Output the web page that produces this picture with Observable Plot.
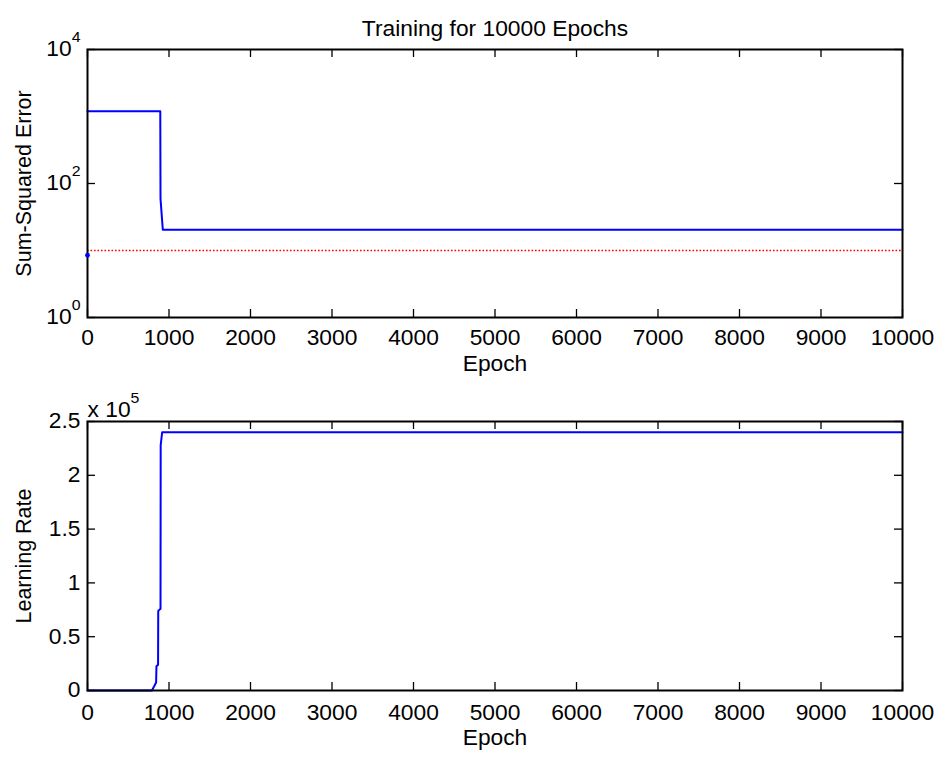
<!DOCTYPE html>
<html>
<head>
<meta charset="utf-8">
<script src="https://cdn.jsdelivr.net/npm/d3@7"></script>
<script src="https://cdn.jsdelivr.net/npm/@observablehq/plot@0.6"></script>
<style>
  html, body { margin: 0; padding: 0; background: white; }
  #chart { width: 939px; height: 758px; overflow: hidden; }
  #chart svg { display: block; }
</style>
</head>
<body>
<div id="chart"></div>
<script>
// ---- Data ----
const titleText = "Training for 10000 Epochs";
const xLabelText = "Epoch";
const sseLabelText = "Sum-Squared Error";
const lrLabelText = "Learning Rate";
const lrMultiplierText = "x 10^5";

const sseEpochs = [0, 893, 896, 924, 10000];
const sseValues = [1200, 1200, 59, 20.4, 20.4];
const errorGoal = 10;
const startEpochs = [0];
const startValues = [8.5];

const lrEpochs = [0, 790, 815, 842, 846, 866, 868, 896, 898, 916, 10000];
const lrValues = [0, 0, 0.035, 0.075, 0.225, 0.24, 0.74, 0.76, 2.28, 2.4, 2.4]; // in units of 10^5

const epochTicks = [0, 1000, 2000, 3000, 4000, 5000, 6000, 7000, 8000, 9000, 10000];
const sseTicks = [1, 100, 10000];
const sseTickLabels = ["10^0", "10^2", "10^4"];
const lrTicks = [0, 0.5, 1, 1.5, 2, 2.5];
const lrTickLabels = ["0", "0.5", "1", "1.5", "2", "2.5"];

// ---- Tables built from the arrays ----
const sse = sseEpochs.map((e, i) => ({epoch: e, value: sseValues[i]}));
const start = startEpochs.map((e, i) => ({epoch: e, value: startValues[i]}));
const lr = lrEpochs.map((e, i) => ({epoch: e, value: lrValues[i]}));
const sseLabelMap = new Map(sseTicks.map((t, i) => [t, sseTickLabels[i]]));
const lrLabelMap = new Map(lrTicks.map((t, i) => [t, lrTickLabels[i]]));

const FONT = "'Liberation Sans', Arial, Helvetica, sans-serif";
const FONT_SIZE = 21.5;
const STRETCH = 1.06;
const W = 939, ML = 87, MR = 37;
const frameW = W - ML - MR;
const TICK = 8;

const common = {
  width: W,
  marginLeft: ML,
  marginRight: MR,
  style: {fontFamily: FONT, fontSize: FONT_SIZE + "px", color: "black", background: "white", overflow: "visible"}
};

function boxTicks(frameH, xTicks, yTicks) {
  return [
    Plot.tickX(xTicks, {x: d => d, insetTop: frameH - TICK, stroke: "black", strokeWidth: 1.3}),
    Plot.tickX(xTicks, {x: d => d, insetBottom: frameH - TICK, stroke: "black", strokeWidth: 1.3}),
    Plot.tickY(yTicks, {y: d => d, insetRight: frameW - TICK, stroke: "black", strokeWidth: 1.3}),
    Plot.tickY(yTicks, {y: d => d, insetLeft: frameW - TICK, stroke: "black", strokeWidth: 1.3})
  ];
}

// ---- Top panel ----
const H1 = 380, MT1 = 49, MB1 = 63;
const topPlot = Plot.plot({
  ...common,
  height: H1,
  marginTop: MT1,
  marginBottom: MB1,
  x: {domain: [0, 10000]},
  y: {type: "log", domain: [1, 10000]},
  marks: [
    Plot.ruleY([errorGoal], {y: d => d, stroke: "#ff0000", strokeWidth: 1.6, strokeDasharray: "1.6,1.9"}),
    Plot.line(sse, {x: "epoch", y: "value", stroke: "#0000ff", strokeWidth: 2}),
    ...boxTicks(H1 - MT1 - MB1, epochTicks, sseTicks),
    Plot.frame({stroke: "black", strokeWidth: 2}),
    Plot.dot(start, {x: "epoch", y: "value", r: 2.4, fill: "#0000ff", stroke: null}),
    Plot.axisX(epochTicks, {tickSize: 0, tickPadding: 12.5, label: null, tickFormat: d => String(d)}),
    Plot.axisY(sseTicks, {tickSize: 0, tickPadding: 7, label: null, tickFormat: d => sseLabelMap.get(d)}),
    Plot.text([titleText], {text: d => d, frameAnchor: "top", dy: -29}),
    Plot.text([xLabelText], {text: d => d, frameAnchor: "bottom", dy: 53}),
    Plot.text([sseLabelText], {text: d => d, frameAnchor: "left", textAnchor: "middle", rotate: -90, dx: -64})
  ]
});

// ---- Bottom panel ----
const H2 = 378, MT2 = 41, MB2 = 68;
const bottomPlot = Plot.plot({
  ...common,
  height: H2,
  marginTop: MT2,
  marginBottom: MB2,
  x: {domain: [0, 10000]},
  y: {domain: [0, 2.5]},
  marks: [
    Plot.line(lr, {x: "epoch", y: "value", stroke: "#0000ff", strokeWidth: 2}),
    ...boxTicks(H2 - MT2 - MB2, epochTicks, lrTicks),
    Plot.frame({stroke: "black", strokeWidth: 2}),
    Plot.axisX(epochTicks, {tickSize: 0, tickPadding: 14, label: null, tickFormat: d => String(d)}),
    Plot.axisY(lrTicks, {tickSize: 0, tickPadding: 7, label: null, tickFormat: d => lrLabelMap.get(d)}),
    Plot.text([lrMultiplierText], {text: d => d, frameAnchor: "top-left", textAnchor: "start", dy: -20}),
    Plot.text([xLabelText], {text: d => d, frameAnchor: "bottom", dy: 54}),
    Plot.text([lrLabelText], {text: d => d, frameAnchor: "left", textAnchor: "middle", rotate: -90, dx: -64})
  ]
});

const chart = document.getElementById("chart");
chart.appendChild(topPlot);
chart.appendChild(bottomPlot);

// superscripts written as "base^exp"
function superscripts(svg) {
  svg.querySelectorAll("text").forEach(t => {
    const s = t.textContent;
    const i = s.indexOf("^");
    if (i < 0) return;
    t.textContent = s.slice(0, i);
    const ts = document.createElementNS("http://www.w3.org/2000/svg", "tspan");
    ts.textContent = s.slice(i + 1);
    ts.setAttribute("font-size", "15");
    ts.setAttribute("dy", "-0.95em");
    t.appendChild(ts);
  });
}
// slightly widen glyphs horizontally, like the reference picture
function stretch(svg, k) {
  svg.querySelectorAll("text").forEach(t => {
    const b = t.getBBox();
    const tr = t.getAttribute("transform") || "";
    if (/rotate/.test(tr)) {
      const cy = b.y + b.height / 2;
      t.setAttribute("transform", `${tr} translate(0,${cy}) scale(1,${k}) translate(0,${-cy})`);
    } else {
      const anchor = getComputedStyle(t).textAnchor;
      const ax = anchor === "middle" ? b.x + b.width / 2 : anchor === "end" ? b.x + b.width : b.x;
      t.setAttribute("transform", `${tr} translate(${ax},0) scale(${k},1) translate(${-ax},0)`);
    }
  });
}
[topPlot, bottomPlot].forEach(svg => { superscripts(svg); stretch(svg, STRETCH); });
</script>
</body>
</html>
